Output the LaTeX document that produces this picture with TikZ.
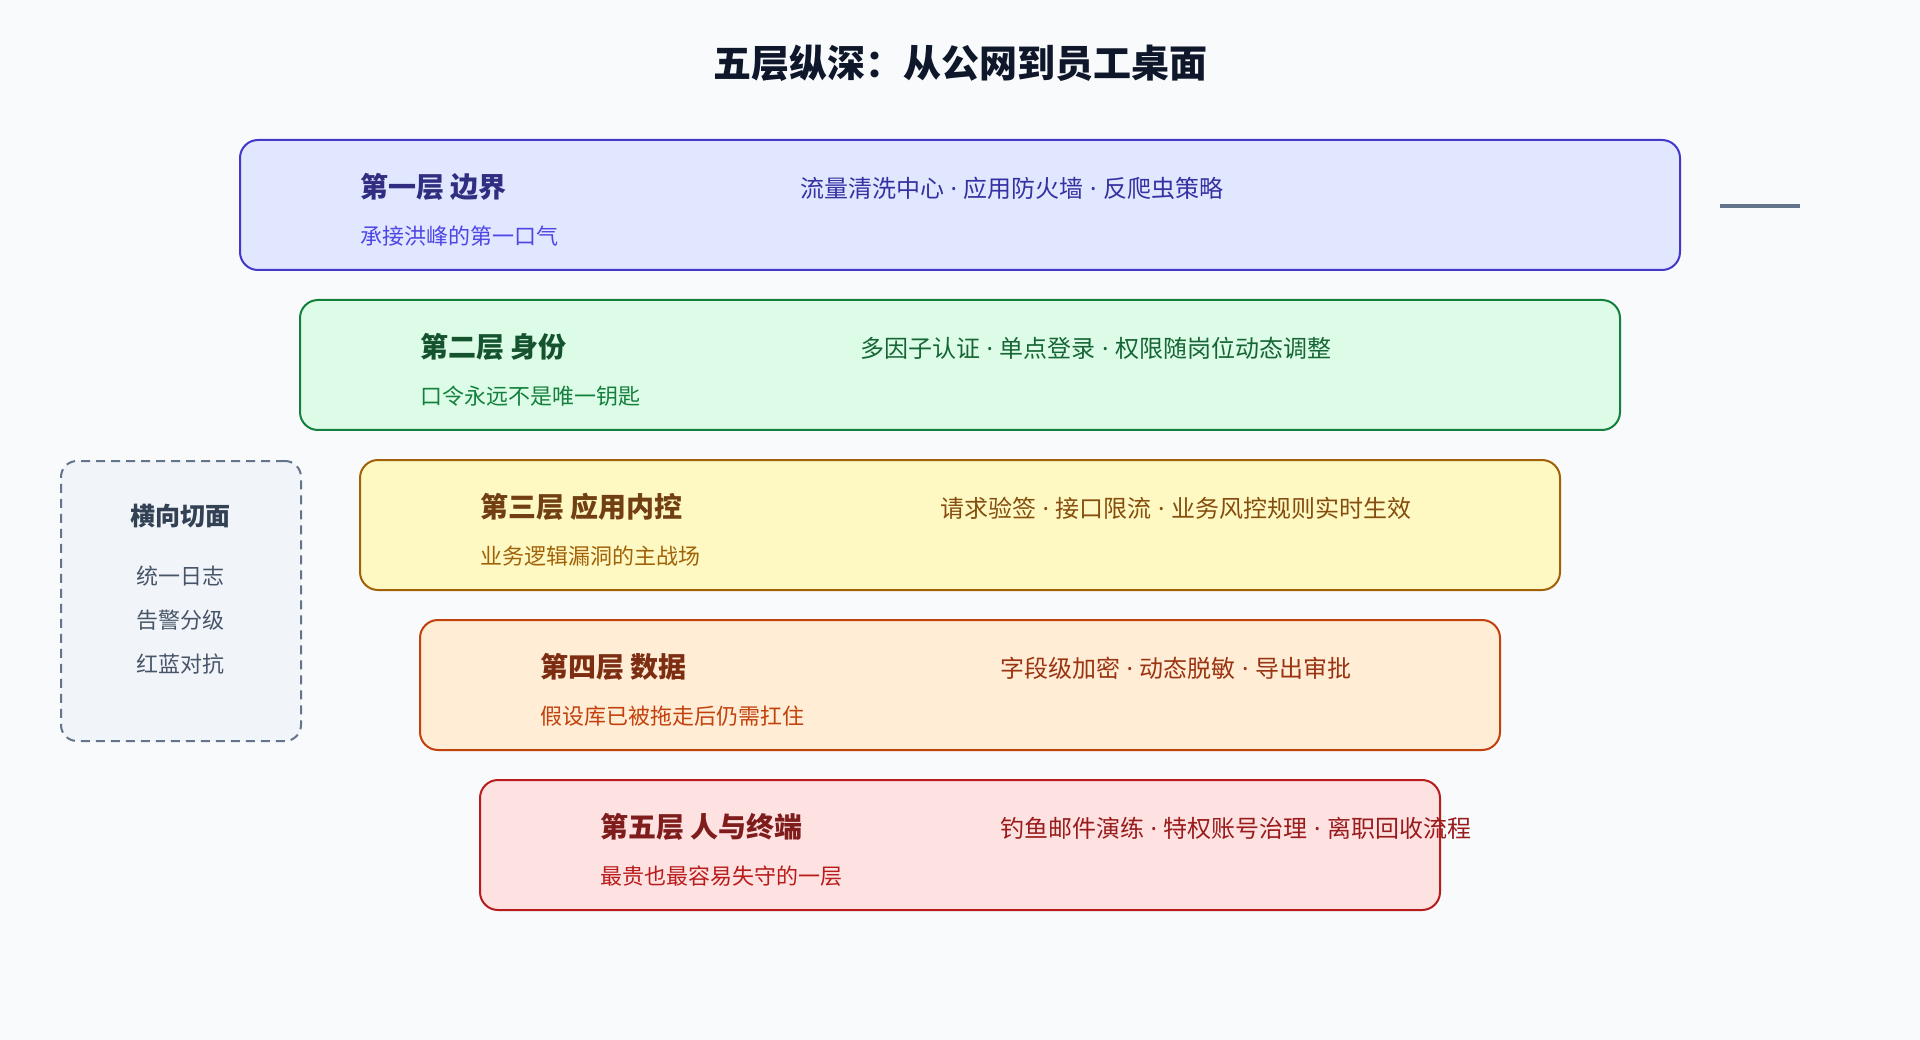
\documentclass[tikz,border=0pt]{standalone}
\usepackage{fontspec}
\setmainfont{Noto Sans CJK SC}
\newfontfamily\latinf{Noto Sans}
\definecolor{bg}{HTML}{F8FAFC}
\definecolor{ttl}{HTML}{0F172A}
% layer 1
\definecolor{af}{HTML}{E0E7FF}\definecolor{ab}{HTML}{4338CA}\definecolor{at}{HTML}{312E81}\definecolor{as}{HTML}{4F46E5}\definecolor{ad}{HTML}{3730A3}
% layer 2
\definecolor{bf}{HTML}{DCFCE7}\definecolor{bb}{HTML}{15803D}\definecolor{bt}{HTML}{14532D}\definecolor{bs}{HTML}{15803D}\definecolor{bd}{HTML}{166534}
% layer 3
\definecolor{cf}{HTML}{FEF9C3}\definecolor{cb}{HTML}{A16207}\definecolor{ct}{HTML}{713F12}\definecolor{cs}{HTML}{A16207}\definecolor{cd}{HTML}{854D0E}
% layer 4
\definecolor{df}{HTML}{FFEDD5}\definecolor{db}{HTML}{C2410C}\definecolor{dt}{HTML}{7C2D12}\definecolor{ds}{HTML}{C2410C}\definecolor{dd}{HTML}{9A3412}
% layer 5
\definecolor{ef}{HTML}{FEE2E2}\definecolor{eb}{HTML}{B91C1C}\definecolor{et}{HTML}{7F1D1D}\definecolor{es}{HTML}{B91C1C}\definecolor{ed}{HTML}{991B1B}
% side
\definecolor{sf}{HTML}{F1F5F9}\definecolor{sb}{HTML}{64748B}\definecolor{st}{HTML}{334155}\definecolor{si}{HTML}{475569}
\newcommand{\sepdot}{\hspace{6.5pt}{\latinf ·}\hspace{6.5pt}}
\tikzset{
  layerbox/.style={draw, line width=2pt, rounded corners=18pt, minimum width=#1, minimum height=130pt, anchor=north west, inner sep=0pt, outer sep=0pt},
  ltitle/.style={anchor=west, inner sep=0pt, font=\fontsize{28pt}{32pt}\selectfont\bfseries},
  lsub/.style={anchor=west, inner sep=0pt, font=\fontsize{22pt}{26pt}\selectfont},
  ldesc/.style={anchor=west, inner sep=0pt, font=\fontsize{24pt}{28pt}\selectfont},
  sidebox/.style={draw=sb, fill=sf, line width=2pt, dash pattern=on 9pt off 6pt, rounded corners=16pt, minimum width=240pt, minimum height=280pt, anchor=north west, inner sep=0pt},
  sidetitle/.style={inner sep=0pt, text=st, font=\fontsize{25pt}{30pt}\selectfont\bfseries},
  sideitem/.style={inner sep=0pt, text=si, font=\fontsize{22pt}{26pt}\selectfont},
}
\begin{document}
\begin{tikzpicture}[x=1pt, y=-1pt]
\useasboundingbox (0,0) rectangle (1920,1040);
\fill[bg] (0,0) rectangle (1920,1040);

\node[inner sep=0pt, text=ttl, font=\fontsize{38pt}{44pt}\selectfont\bfseries] (title) at (960,63) {五层纵深：从公网到员工桌面};

% layer 1
\node[layerbox=1440pt, draw=ab, fill=af] (L1) at (240,140) {};
\node[ltitle, text=at] (L1t) at (360,187) {第一层 边界};
\node[lsub, text=as] (L1s) at (360,236) {承接洪峰的第一口气};
\node[ldesc, text=ad] (L1d) at (800,188) {流量清洗中心\sepdot 应用防火墙\sepdot 反爬虫策略};

% layer 2
\node[layerbox=1320pt, draw=bb, fill=bf] (L2) at (300,300) {};
\node[ltitle, text=bt] (L2t) at (420,347) {第二层 身份};
\node[lsub, text=bs] (L2s) at (420,396) {口令永远不是唯一钥匙};
\node[ldesc, text=bd] (L2d) at (860,348) {多因子认证\sepdot 单点登录\sepdot 权限随岗位动态调整};

% layer 3
\node[layerbox=1200pt, draw=cb, fill=cf] (L3) at (360,460) {};
\node[ltitle, text=ct] (L3t) at (480,507) {第三层 应用内控};
\node[lsub, text=cs] (L3s) at (480,556) {业务逻辑漏洞的主战场};
\node[ldesc, text=cd] (L3d) at (940,508) {请求验签\sepdot 接口限流\sepdot 业务风控规则实时生效};

% layer 4
\node[layerbox=1080pt, draw=db, fill=df] (L4) at (420,620) {};
\node[ltitle, text=dt] (L4t) at (540,667) {第四层 数据};
\node[lsub, text=ds] (L4s) at (540,716) {假设库已被拖走后仍需扛住};
\node[ldesc, text=dd] (L4d) at (1000,668) {字段级加密\sepdot 动态脱敏\sepdot 导出审批};

% layer 5
\node[layerbox=960pt, draw=eb, fill=ef] (L5) at (480,780) {};
\node[ltitle, text=et] (L5t) at (600,827) {第五层 人与终端};
\node[lsub, text=es] (L5s) at (600,876) {最贵也最容易失守的一层};
\node[ldesc, text=ed] (L5d) at (1000,828) {钓鱼邮件演练\sepdot 特权账号治理\sepdot 离职回收流程};

% side box
\node[sidebox] (S) at (60,460) {};
\node[sidetitle] (St) at (180,516) {横向切面};
\node[sideitem] (S1) at (180,576) {统一日志};
\node[sideitem] (S2) at (180,620) {告警分级};
\node[sideitem] (S3) at (180,664) {红蓝对抗};

% short line top right
\coordinate (m1) at (1720,206);
\coordinate (m2) at (1800,206);
\draw[sb, line width=4pt] (m1) -- (m2);
\end{tikzpicture}
\end{document}
